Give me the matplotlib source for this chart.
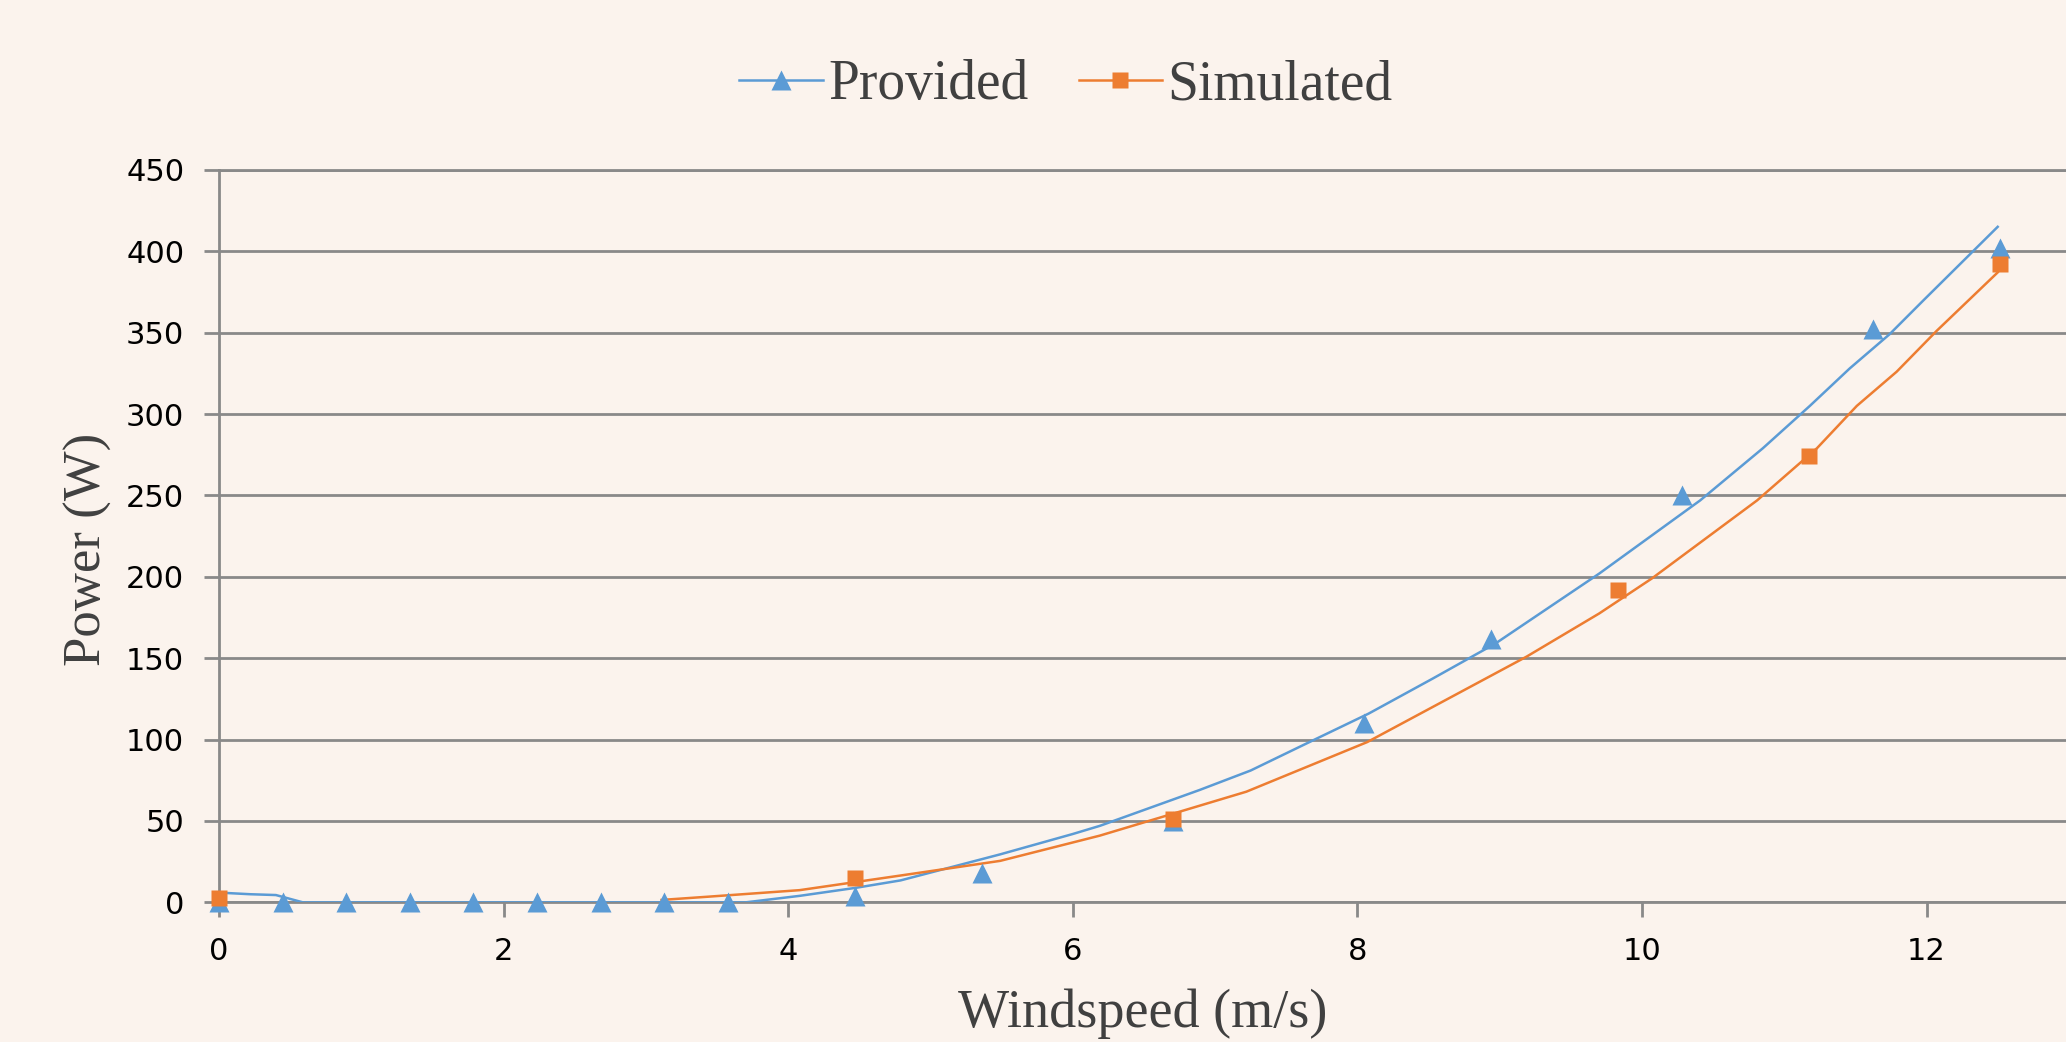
import matplotlib
matplotlib.use('Agg')
import matplotlib.pyplot as plt

# power curve: turbine data sheet (mph steps converted to m/s)
provided_speed = [0, 0.447, 0.894, 1.341, 1.788, 2.235, 2.682, 3.129, 3.576,
                  4.470, 5.364, 6.706, 8.047, 8.941, 10.282, 11.623, 12.517]
provided_power = [0, 0, 0, 0, 0, 0, 0, 0, 0,
                  4, 18, 50, 110, 162, 250, 352, 402]

simulated_speed = [0, 4.470, 6.706, 9.835, 11.176, 12.517]
simulated_power = [2.5, 15, 51, 192, 274, 392]

# trend curves
provided_fit_speed = [0, 0.22, 0.40, 0.59, 3.70, 4.08, 4.48, 4.79, 5.49, 6.00, 6.19,
                      6.89, 7.25, 7.64, 8.08, 8.53, 8.97, 9.70, 10.41, 10.85, 11.18,
                      11.46, 11.74, 11.98, 12.50]
provided_fit_power = [6, 5, 4.5, 0, 0, 4, 9, 13.5, 29.5, 42, 47,
                      69, 81, 97.5, 116, 137.5, 159, 202, 247, 279, 305,
                      328, 349, 370, 415]

simulated_fit_speed = [3.11, 3.44, 4.08, 4.79, 5.49, 6.19, 7.22, 8.07, 9.19, 9.70,
                       10.07, 10.81, 11.23, 11.51, 11.79, 12.07, 12.50]
simulated_fit_power = [1.5, 3.5, 7.5, 16.5, 25.5, 41, 68, 98.5, 151, 177.5,
                       199, 247, 279, 305, 326, 351, 387]

x_ticks = [0, 2, 4, 6, 8, 10, 12]
y_ticks = [0, 50, 100, 150, 200, 250, 300, 350, 400, 450]

bg = '#FBF3ED'
grid_col = '#898989'
blue = '#5B9BD5'
orange = '#ED7D31'
serif = ['Liberation Serif', 'DejaVu Serif']

fig = plt.figure(figsize=(20.66, 10.42), dpi=100, facecolor=bg)
ax = fig.add_axes([0.106, 0.134, 0.894, 0.703])
ax.set_facecolor(bg)

# provided series
ax.plot(provided_fit_speed, provided_fit_power, color=blue, lw=1.8, zorder=3)
ax.plot(provided_speed, provided_power, ls='none', marker='^', ms=15,
        color=blue, mec='none', zorder=4, clip_on=False)
# simulated series
ax.plot(simulated_fit_speed, simulated_fit_power, color=orange, lw=1.8, zorder=3)
ax.plot(simulated_speed, simulated_power, ls='none', marker='s', ms=12,
        color=orange, mec='none', zorder=5, clip_on=False)

ax.set_xlim(0, 12.98)
ax.set_ylim(0, 450)
ax.set_xticks(x_ticks)
ax.set_yticks(y_ticks)
ax.yaxis.grid(True, color=grid_col, lw=2)
ax.set_axisbelow(True)

for side in ['top', 'bottom', 'left']:
    ax.spines[side].set_color(grid_col)
    ax.spines[side].set_linewidth(2)
ax.spines['right'].set_visible(False)

ax.tick_params(axis='both', direction='out', length=11, width=2, color=grid_col,
               labelsize=22, labelcolor='black', pad=14)

# x label sits right at the bottom edge, as in the original
ax.set_xlabel('Windspeed (m/s)', family=serif, fontsize=39, color='#404040')
ax.set_ylabel('Power (W)', family=serif, fontsize=38, color='#404040')
ax.xaxis.set_label_coords(0.5, -0.118)
ax.yaxis.set_label_coords(-0.058, 0.482)

h1, = ax.plot([], [], color=blue, lw=1.8, marker='^', ms=15, mec='none')
h2, = ax.plot([], [], color=orange, lw=1.8, marker='s', ms=12, mec='none')
fig.legend([h1, h2], ['Provided', 'Simulated'], loc='center',
           bbox_to_anchor=(0.516, 0.918), ncol=2, frameon=False,
           prop={'family': serif, 'size': 40}, labelcolor='#404040',
           handlelength=1.5, handletextpad=0.1, columnspacing=0.9)

fig.savefig('out.png', dpi=100, facecolor=bg)
